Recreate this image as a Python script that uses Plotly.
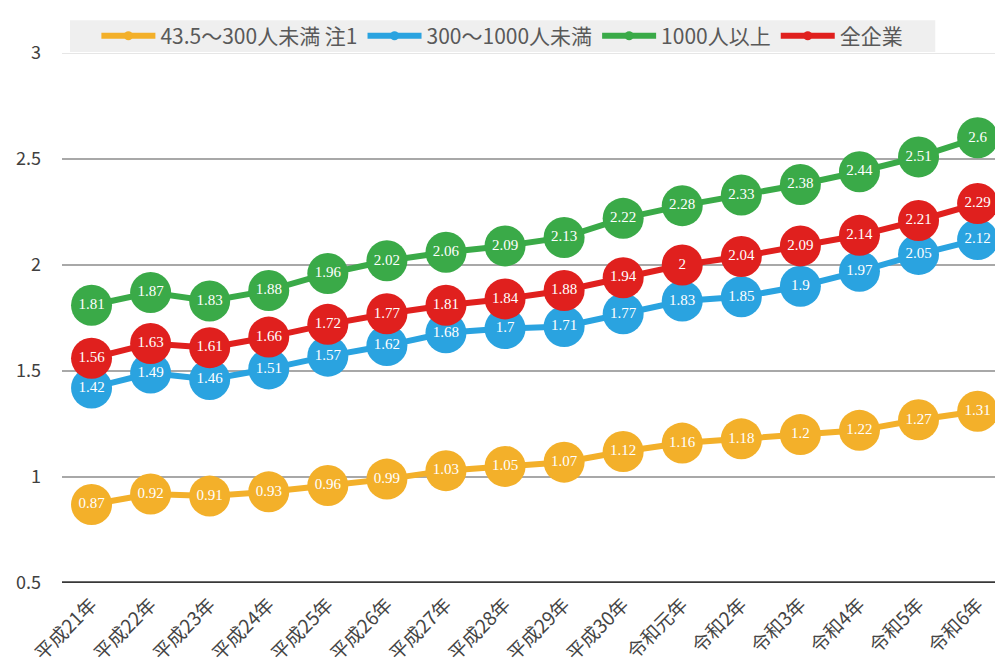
import plotly.graph_objects as go

categories = ["平成21年", "平成22年", "平成23年", "平成24年", "平成25年", "平成26年",
              "平成27年", "平成28年", "平成29年", "平成30年", "令和元年", "令和2年",
              "令和3年", "令和4年", "令和5年", "令和6年"]

small = [0.87, 0.92, 0.91, 0.93, 0.96, 0.99, 1.03, 1.05, 1.07, 1.12, 1.16, 1.18, 1.2, 1.22, 1.27, 1.31]
medium = [1.42, 1.49, 1.46, 1.51, 1.57, 1.62, 1.68, 1.7, 1.71, 1.77, 1.83, 1.85, 1.9, 1.97, 2.05, 2.12]
large = [1.81, 1.87, 1.83, 1.88, 1.96, 2.02, 2.06, 2.09, 2.13, 2.22, 2.28, 2.33, 2.38, 2.44, 2.51, 2.6]
total = [1.56, 1.63, 1.61, 1.66, 1.72, 1.77, 1.81, 1.84, 1.88, 1.94, 2, 2.04, 2.09, 2.14, 2.21, 2.29]

series_names = ["43.5～300人未満 注1", "300～1000人未満", "1000人以上", "全企業"]
series_values = [small, medium, large, total]
colors = ["#F3B02A", "#2AA3E0", "#3AAA48", "#E0201E"]

y_ticks = [0.5, 1, 1.5, 2, 2.5, 3]
y_ticktext = ["0.5", "1", "1.5", "2", "2.5", "3"]

FONT = "Noto Sans CJK JP"

fig = go.Figure()
for name, vals, col in zip(series_names, series_values, colors):
    fig.add_trace(go.Scatter(
        x=categories, y=vals, mode="lines+markers+text",
        line=dict(color=col, width=6),
        marker=dict(color=col, size=41),
        text=[f"{v:g}" for v in vals],
        textposition="middle center",
        textfont=dict(color="white", size=15, family="Liberation Serif"),
        cliponaxis=False, showlegend=False, name=name,
    ))
# legend entries with small symbols
for name, col in zip(series_names, colors):
    fig.add_trace(go.Scatter(
        x=[None], y=[None], mode="lines+markers", name=name,
        line=dict(color=col, width=6), marker=dict(color=col, size=9),
    ))

# gridlines
for yv in y_ticks[1:]:
    fig.add_hline(y=yv, line=dict(color="#e6e6e6" if yv == 3 else "#a8a8a8", width=2),
                  layer="below")
fig.add_hline(y=0.5, line=dict(color="#383838", width=3.5), layer="below")

# legend background band
fig.add_shape(type="rect", xref="paper", yref="paper",
              x0=0.0085, x1=0.928, y0=1.002, y1=1.062,
              fillcolor="#efefef", line=dict(width=0), layer="below")

fig.update_layout(
    width=1003, height=670,
    margin=dict(l=54, r=8, t=43, b=95),
    paper_bgcolor="white", plot_bgcolor="white",
    font=dict(family=FONT, color="#404040"),
    legend=dict(orientation="h", x=0.468, xanchor="center", y=1.0705, yanchor="top",
                bgcolor="rgba(0,0,0,0)", font=dict(size=21, color="#595959"),
                itemwidth=54, traceorder="normal"),
    xaxis=dict(range=[-0.5, 15.43], tickangle=-45, tickfont=dict(size=19, color="#454545"),
               showgrid=False, showline=False, ticks="", zeroline=False,
               ticklabelstandoff=6),
    yaxis=dict(range=[0.5, 3], tickvals=y_ticks, ticktext=y_ticktext,
               tickfont=dict(size=18, color="#404040"),
               showgrid=False, zeroline=False, showline=False, ticks="",
               ticklabelstandoff=20),
)

fig.write_html("out.html")
